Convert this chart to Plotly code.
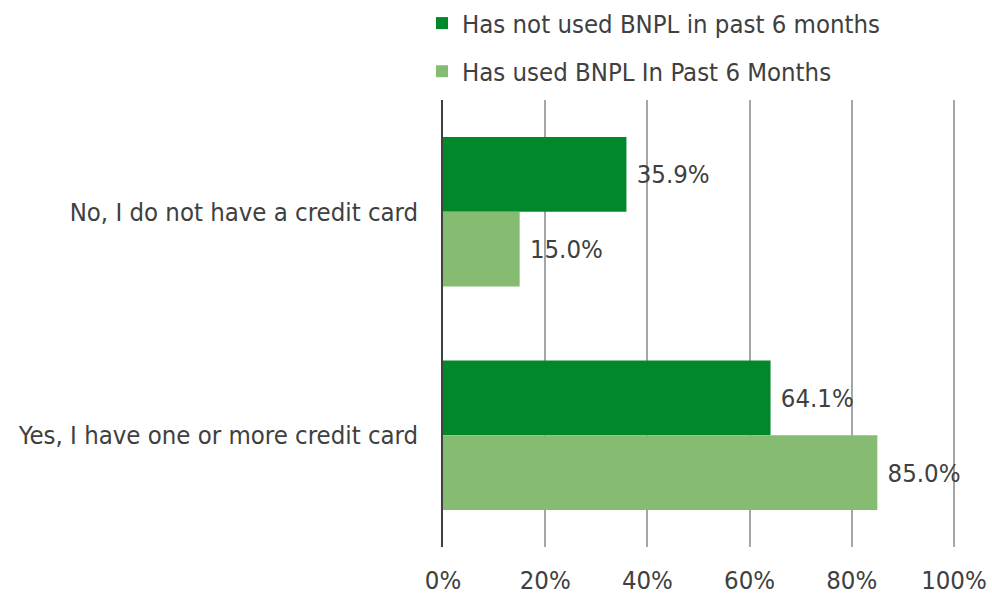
import plotly.graph_objects as go

categories = ["No, I do not have a credit card", "Yes, I have one or more credit card"]
not_used = [35.9, 64.1]
used = [15.0, 85.0]
series_names = ["Has not used BNPL in past 6 months", "Has used BNPL In Past 6 Months"]
x_ticks = [0, 20, 40, 60, 80, 100]
x_tick_labels = ["0%", "20%", "40%", "60%", "80%", "100%"]

FONT = "DejaVu Sans Condensed, DejaVu Sans, sans-serif"
TEXT = "#404040"
FS = 25.5

fig = go.Figure()
for name, vals, color, grp in [
    (series_names[0], not_used, "#00882B", "a"),
    (series_names[1], used, "#86BC72", "b"),
]:
    fig.add_trace(go.Bar(
        y=categories, x=vals, name=name, orientation="h",
        marker=dict(color=color, line=dict(width=0)),
        text=[f"\u00a0{v:.1f}%" for v in vals], textposition="outside",
        textfont=dict(size=FS, color=TEXT, family=FONT),
        cliponaxis=False, legendgroup=grp,
    ))

fig.update_layout(
    width=992, height=594,
    margin=dict(l=443, r=37, t=100, b=47, autoexpand=False),
    paper_bgcolor="white", plot_bgcolor="white",
    barmode="group", bargap=0.33, bargroupgap=0,
    font=dict(family=FONT, size=FS, color=TEXT),
    showlegend=True,
    legend=dict(
        x=-0.041, y=1.0, xanchor="left", yanchor="top", yref="container",
        orientation="v", traceorder="grouped", tracegroupgap=12,
        font=dict(size=FS, color=TEXT, family=FONT),
        bgcolor="rgba(0,0,0,0)",
    ),
    xaxis=dict(
        range=[0, 100.2], tickvals=x_ticks, ticktext=x_tick_labels,
        showgrid=True, gridcolor="#A6A6A6", gridwidth=1.5,
        zeroline=False, showline=False, ticks="", automargin=False,
        ticklabelstandoff=15, tickfont=dict(size=FS, color=TEXT),
    ),
    yaxis=dict(
        autorange="reversed", showline=True, linecolor="#404040", linewidth=1.5,
        ticks="", ticklabelstandoff=18, tickfont=dict(size=FS, color=TEXT),
        showgrid=False, automargin=False,
    ),
)

fig.write_html("out.html")
